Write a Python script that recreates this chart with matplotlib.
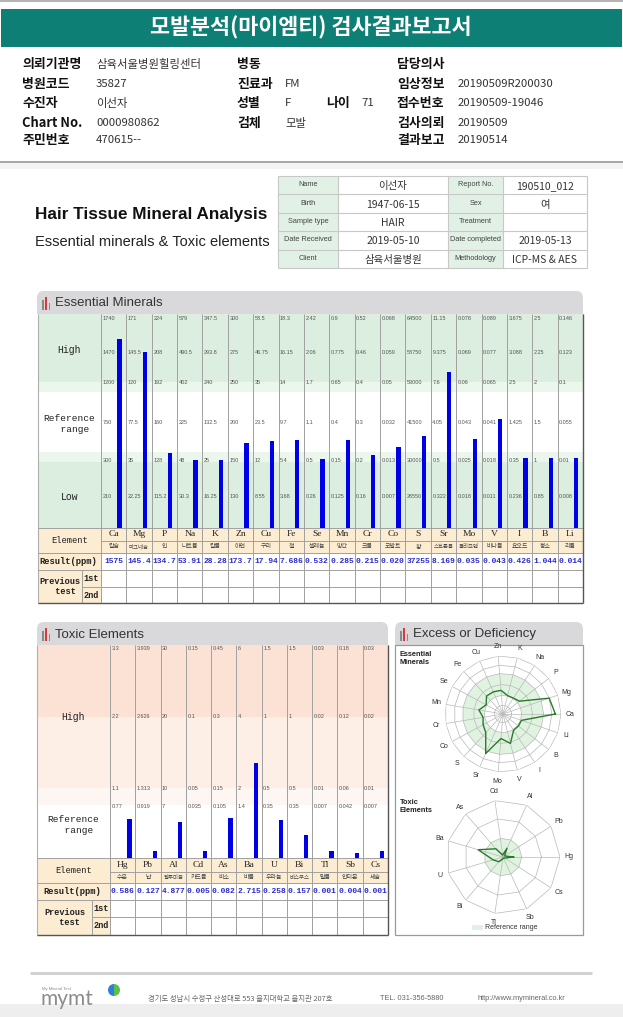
import numpy as np
import matplotlib
matplotlib.use("Agg")
import matplotlib.pyplot as plt
from matplotlib.patches import Rectangle, FancyBboxPatch, Wedge
from matplotlib import font_manager

# ---------------- data ----------------
ESS_SYMBOLS = ["Ca", "Mg", "P", "Na", "K", "Zn", "Cu", "Fe", "Se", "Mn",
               "Cr", "Co", "S", "Sr", "Mo", "V", "I", "B", "Li"]
ESS_KOREAN = ["칼슘", "마그네슘", "인", "나트륨", "칼륨", "아연", "구리", "철", "셀레늄", "망간",
              "크롬", "코발트", "황", "스트론튬", "몰리브덴", "바나듐", "요오드", "붕소", "리튬"]
ESS_RESULTS = ["1575", "145.4", "134.7", "53.91", "28.28", "173.7", "17.94", "7.686", "0.532", "0.285",
               "0.215", "0.020", "37255", "8.169", "0.035", "0.043", "0.426", "1.044", "0.014"]
ESS_TOP = [1740, 171, 224, 579, 347.5, 300, 58.5, 18.3, 2.42, 0.9,
           0.52, 0.068, 64500, 11.15, 0.078, 0.089, 3.675, 2.5, 0.146]
ESS_HIGH_MID = [1470, 145.5, 208, 490.5, 293.8, 275, 46.75, 16.15, 2.06, 0.775,
                0.46, 0.059, 58750, 9.375, 0.069, 0.077, 3.088, 2.25, 0.123]
ESS_HIGH = [1200, 120, 192, 402, 240, 250, 35, 14, 1.7, 0.65,
            0.4, 0.05, 53000, 7.6, 0.06, 0.065, 2.5, 2, 0.1]
ESS_REF_MID = [750, 77.5, 160, 225, 132.5, 200, 23.5, 9.7, 1.1, 0.4,
               0.3, 0.032, 41500, 4.05, 0.043, 0.041, 1.425, 1.5, 0.055]
ESS_LOW = [300, 35, 128, 48, 25, 150, 12, 5.4, 0.5, 0.15,
           0.2, 0.013, 30000, 0.5, 0.025, 0.018, 0.35, 1, 0.01]
ESS_LOW_MID = [210, 22.25, 115.2, 30.3, 16.25, 130, 8.55, 3.68, 0.26, 0.125,
               0.16, 0.007, 26550, 0.322, 0.018, 0.011, 0.236, 0.85, 0.008]

TOX_SYMBOLS = ["Hg", "Pb", "Al", "Cd", "As", "Ba", "U", "Bi", "Tl", "Sb", "Cs"]
TOX_KOREAN = ["수은", "납", "알루미늄", "카드뮴", "비소", "바륨", "우라늄", "비스무스", "탈륨", "안티몬", "세슘"]
TOX_RESULTS = ["0.586", "0.127", "4.877", "0.005", "0.082", "2.715", "0.258", "0.157", "0.001", "0.004", "0.001"]
TOX_TOP = [3.3, 3.939, 30, 0.15, 0.45, 6, 1.5, 1.5, 0.03, 0.18, 0.03]
TOX_HIGH_MID = [2.2, 2.626, 20, 0.1, 0.3, 4, 1, 1, 0.02, 0.12, 0.02]
TOX_HIGH = [1.1, 1.313, 10, 0.05, 0.15, 2, 0.5, 0.5, 0.01, 0.06, 0.01]
TOX_REF = [0.77, 0.919, 7, 0.035, 0.105, 1.4, 0.35, 0.35, 0.007, 0.042, 0.007]

# ---------------- fonts ----------------
W, H = 623, 1017
KR = ['Noto Sans CJK KR', 'DejaVu Sans']
plt.rcParams['font.family'] = KR
_names = {f.name for f in font_manager.fontManager.ttflist}
NARROW = ['Liberation Sans Narrow'] if 'Liberation Sans Narrow' in _names else ['Liberation Sans']
HAS_NARROW = 'Liberation Sans Narrow' in _names
SANS = ['Liberation Sans', 'DejaVu Sans']
MONO = ['Liberation Mono', 'DejaVu Sans Mono']
SERIF = ['Liberation Serif', 'DejaVu Serif']

fig = plt.figure(figsize=(W / 100, H / 100), dpi=100)
fig.patch.set_facecolor('white')
ax0 = fig.add_axes([0, 0, 1, 1])
ax0.set_xlim(0, W)
ax0.set_ylim(H, 0)
ax0.axis('off')


def fig_axes(x0, y0, x1, y1, **kw):
    return fig.add_axes([x0 / W, 1 - y1 / H, (x1 - x0) / W, (y1 - y0) / H], **kw)


def R(x0, y0, x1, y1, fc, ec='none', lw=0, z=1):
    ax0.add_patch(Rectangle((x0, y0), x1 - x0, y1 - y0, facecolor=fc,
                            edgecolor=ec, linewidth=lw, zorder=z))


def L(xs, ys, c='#a8a8a8', lw=0.8, z=3):
    ax0.plot(xs, ys, color=c, lw=lw, zorder=z, solid_capstyle='butt')


def T(x, y, s, size, c='#222222', ha='left', va='center', weight='normal', family=None, z=5):
    ax0.text(x, y, s, fontsize=size, color=c, ha=ha, va=va, fontweight=weight,
             family=family or KR, zorder=z)


def level_heights(values, levels, lv_h):
    out = []
    for i, v in enumerate(values):
        xp = [0.0] + [lv[i] for lv in levels[::-1]]
        fp = [0.0] + list(lv_h[::-1])
        out.append(float(np.interp(v, xp, fp)))
    return np.array(out)


# ---------------- page header ----------------
R(0, 0, W, 2, '#b4b4b4')
R(1, 9, W - 1, 47, '#0e7f74')
T(311, 28, "모발분석(마이엠티) 검사결과보고서", 15.7, 'white', ha='center', weight='bold')

rows_y = [64, 84, 103, 123, 140]
c1_lab = ["의뢰기관명", "병원코드", "수진자", "Chart No.", "주민번호"]
c1_val = ["삼육서울병원힐링센터", "35827", "이선자", "0000980862", "470615--"]
c2_lab = ["병동", "진료과", "성별", "검체"]
c2_val = ["", "FM", "F", "모발"]
c3_lab = ["담당의사", "임상정보", "접수번호", "검사의뢰", "결과보고"]
c3_val = ["", "20190509R200030", "20190509-19046", "20190509", "20190514"]
for i, y in enumerate(rows_y):
    T(22, y, c1_lab[i], 9.3, '#111111', weight='bold')
    T(96, y, c1_val[i], 8.2, '#333333')
    T(397, y, c3_lab[i], 9.3, '#111111', weight='bold')
    T(458, y, c3_val[i], 8.2, '#333333')
for i in range(4):
    T(237, rows_y[i], c2_lab[i], 9.3, '#111111', weight='bold')
    T(285, rows_y[i], c2_val[i], 8.2, '#333333')
T(326, rows_y[2], "나이", 9.3, '#111111', weight='bold')
T(361, rows_y[2], "71", 8.2, '#333333')

R(0, 161, W, 163, '#a8a8a8')
R(0, 163, W, 169, '#f3f3f3')

# ---------------- report title + patient table ----------------
T(35, 214, "Hair Tissue Mineral Analysis", 15 if HAS_NARROW else 12.3, '#111111',
  weight='bold', family=NARROW)
T(35, 242, "Essential minerals & Toxic elements", 11.5 if HAS_NARROW else 10.5, '#222222',
  family=NARROW)

tx = [278, 338, 448, 503, 587]
ty = [176 + 18.4 * i for i in range(6)]
R(tx[0], ty[0], tx[1], ty[-1], '#e2f1e6')
R(tx[2], ty[0], tx[3], ty[-1], '#e2f1e6')
for x in tx:
    L([x, x], [ty[0], ty[-1]], '#c8c8c8', 0.8)
for y in ty:
    L([tx[0], tx[-1]], [y, y], '#c8c8c8', 0.8)
hl1 = ["Name", "Birth", "Sample type", "Date Received", "Client"]
hv1 = ["이선자", "1947-06-15", "HAIR", "2019-05-10", "삼육서울병원"]
hl2 = ["Report No.", "Sex", "Treatment", "Date completed", "Methodology"]
hv2 = ["190510_012", "여", "", "2019-05-13", "ICP-MS & AES"]
for i in range(5):
    yc = (ty[i] + ty[i + 1]) / 2
    T((tx[0] + tx[1]) / 2, yc - 0.5, hl1[i], 5.3, '#444444', ha='center', family=SANS)
    T((tx[1] + tx[2]) / 2, yc + 1, hv1[i], 7.5, '#333333', ha='center')
    T((tx[2] + tx[3]) / 2, yc - 0.5, hl2[i], 5.3, '#444444', ha='center', family=SANS)
    T((tx[3] + tx[4]) / 2, yc + 1, hv2[i], 7.5, '#333333', ha='center')


# ---------------- tab headers ----------------
def tab(x0, x1, y0, y1, title):
    ax0.add_patch(FancyBboxPatch((x0, y0), x1 - x0, y1 - y0,
                                 boxstyle='round,pad=0,rounding_size=7',
                                 facecolor='#d9d9db', edgecolor='none', zorder=1))
    R(x0, y0 + 8, x1, y1, '#d9d9db')
    R(x0 + 5, y1 - 14, x0 + 6.5, y1 - 4, '#8a8a8a', z=2)
    R(x0 + 8, y1 - 17, x0 + 10, y1 - 4, '#d83a3a', z=2)
    R(x0 + 11.5, y1 - 11, x0 + 13, y1 - 4, '#8a8a8a', z=2)
    T(x0 + 18, (y0 + y1) / 2 + 1, title, 9.5, '#333333', family=SANS)


tab(37, 583, 291, 314, "Essential Minerals")
tab(37, 388, 622, 645, "Toxic Elements")
tab(395, 583, 622, 645, "Excess or Deficiency")

# ---------------- essential minerals table ----------------
EX0, EXC, ECW = 38, 101.0, 25.37
EN = len(ESS_SYMBOLS)
EX1 = EXC + EN * ECW
ETOP, EBASE, ESYM, EKR, ERES, EP1, EP2, EPX = 314, 528, 541, 553, 570, 587, 603, 82
E_LV_Y = [319, 352, 382, 422, 461, 497]
E_LV_H = [EBASE - y for y in E_LV_Y]
GREEN, LGREEN, PEACH = '#dceee0', '#ebf6ed', '#fcecd1'

R(EX0, ETOP, EX1, 382, GREEN)
R(EX0, 382, EX1, 392, LGREEN)
R(EX0, 452, EX1, 462, LGREEN)
R(EX0, 462, EX1, EBASE, GREEN)
R(EX0, EBASE, EX1, EKR, PEACH)
R(EX0, EKR, EXC, EP2, PEACH)

for i in range(EN + 1):
    x = EXC + i * ECW
    L([x, x], [ETOP, EP2], '#a0a0a0', 0.7)
L([EX0, EX0], [ETOP, EP2], '#b0b0b0', 0.8)
L([EX1, EX1], [ETOP, EP2], '#555555', 1.0, z=4)
for y, xa in [(EBASE, EX0), (ESYM, EXC), (EKR, EX0), (ERES, EX0), (EP1, EPX)]:
    L([xa, EX1], [y, y], '#a0a0a0', 0.7)
L([EX0, EX1], [EP2, EP2], '#555555', 1.0, z=4)
L([EPX, EPX], [ERES, EP2], '#a0a0a0', 0.7)

lab_x = (EX0 + EXC) / 2
T(lab_x, 350, "High", 7, family=MONO, ha='center')
T(lab_x, 424, "Reference\n  range", 6.8, family=MONO, ha='center')
T(lab_x, 497, "Low", 7, family=MONO, ha='center')
T(lab_x, (EBASE + EKR) / 2, "Element", 6.3, family=MONO, ha='center')
T(lab_x - 1, (EKR + ERES) / 2, "Result(ppm)", 6.3, family=MONO, ha='center', weight='bold')
T((EX0 + EPX) / 2, (ERES + EP2) / 2, "Previous\n  test", 6.2, family=MONO, ha='center', weight='bold')
T((EPX + EXC) / 2, (ERES + EP1) / 2, "1st", 6.2, family=MONO, ha='center', weight='bold')
T((EPX + EXC) / 2, (EP1 + EP2) / 2, "2nd", 6.2, family=MONO, ha='center', weight='bold')

ess_levels = [ESS_TOP, ESS_HIGH_MID, ESS_HIGH, ESS_REF_MID, ESS_LOW, ESS_LOW_MID]
for i in range(EN):
    xl = EXC + i * ECW
    xc = xl + ECW / 2
    for lv, y in zip(ess_levels, E_LV_Y):
        T(xl + 1.5, y, f"{lv[i]:g}", 4.0, '#555555', family=SANS)
    T(xc, (EBASE + ESYM) / 2, ESS_SYMBOLS[i], 6.8, '#222222', ha='center', family=SERIF)
    T(xc, (ESYM + EKR) / 2, ESS_KOREAN[i], 3.9 if len(ESS_KOREAN[i]) > 3 else 4.3, '#444444', ha='center')
    T(xc, (EKR + ERES) / 2, ESS_RESULTS[i], 5.8, '#2a2ad0', ha='center', family=MONO, weight='bold')

ess_vals = np.array([float(s) for s in ESS_RESULTS])
ess_h = level_heights(ess_vals, ess_levels, E_LV_H)
axE = fig_axes(EXC, ETOP, EX1, EBASE)
axE.set_xlim(0, EN)
axE.set_ylim(0, EBASE - ETOP)
axE.axis('off')
axE.bar(np.arange(EN) + 0.73, ess_h, width=0.17, color='#0000e8', zorder=5)

# ---------------- toxic elements table ----------------
TX0, TXC, TCW = 37, 110.0, 25.27
TN = len(TOX_SYMBOLS)
TX1 = TXC + TN * TCW
TTOP, TBASE, TSYM, TKR, TRES, TP1, TP2, TPX = 645, 858, 872, 883, 900, 917, 935, 92
T_LV_Y = [649, 717, 789, 807]
T_LV_H = [TBASE - y for y in T_LV_Y]

R(TX0, TTOP, TX1, 717, '#fbe2d4')
R(TX0, 717, TX1, 788, '#fdeee6')
R(TX0, 788, TX1, 805, '#fef6f2')
R(TX0, TBASE, TX1, TKR, PEACH)
R(TX0, TKR, TXC, TP2, PEACH)

for i in range(TN + 1):
    x = TXC + i * TCW
    L([x, x], [TTOP, TP2], '#a0a0a0', 0.7)
L([TX0, TX0], [TTOP, TP2], '#b0b0b0', 0.8)
L([TX1, TX1], [TTOP, TP2], '#555555', 1.0, z=4)
for y, xa in [(TBASE, TX0), (TSYM, TXC), (TKR, TX0), (TRES, TX0), (TP1, TPX)]:
    L([xa, TX1], [y, y], '#a0a0a0', 0.7)
L([TX0, TX1], [TP2, TP2], '#555555', 1.0, z=4)
L([TPX, TPX], [TRES, TP2], '#a0a0a0', 0.7)

tlab_x = (TX0 + TXC) / 2
T(tlab_x, 717, "High", 7, family=MONO, ha='center')
T(tlab_x, 825, "Reference\n  range", 6.8, family=MONO, ha='center')
T(tlab_x, (TBASE + TKR) / 2, "Element", 6.3, family=MONO, ha='center')
T(tlab_x - 1, (TKR + TRES) / 2, "Result(ppm)", 6.3, family=MONO, ha='center', weight='bold')
T((TX0 + TPX) / 2, (TRES + TP2) / 2, "Previous\n  test", 6.2, family=MONO, ha='center', weight='bold')
T((TPX + TXC) / 2, (TRES + TP1) / 2, "1st", 6.2, family=MONO, ha='center', weight='bold')
T((TPX + TXC) / 2, (TP1 + TP2) / 2, "2nd", 6.2, family=MONO, ha='center', weight='bold')

tox_levels = [TOX_TOP, TOX_HIGH_MID, TOX_HIGH, TOX_REF]
for i in range(TN):
    xl = TXC + i * TCW
    xc = xl + TCW / 2
    for lv, y in zip(tox_levels, T_LV_Y):
        T(xl + 1.5, y, f"{lv[i]:g}", 4.0, '#555555', family=SANS)
    T(xc, (TBASE + TSYM) / 2, TOX_SYMBOLS[i], 6.8, '#222222', ha='center', family=SERIF)
    T(xc, (TSYM + TKR) / 2, TOX_KOREAN[i], 3.9 if len(TOX_KOREAN[i]) > 3 else 4.3, '#444444', ha='center')
    T(xc, (TKR + TRES) / 2, TOX_RESULTS[i], 5.8, '#2a2ad0', ha='center', family=MONO, weight='bold')

tox_vals = np.array([float(s) for s in TOX_RESULTS])
tox_h = level_heights(tox_vals, tox_levels, T_LV_H)
axT = fig_axes(TXC, TTOP, TX1, TBASE)
axT.set_xlim(0, TN)
axT.set_ylim(0, TBASE - TTOP)
axT.axis('off')
axT.bar(np.arange(TN) + 0.77, tox_h, width=0.17, color='#0000e8', zorder=5)

# ---------------- radar panel ----------------
R(395, 645, 583, 935, 'white', ec='#9a9a9a', lw=0.9, z=1)
T(400, 659, "Essential\nMinerals", 5.3, '#222222', weight='bold', family=SANS)
T(400, 806, "Toxic\nElements", 5.3, '#222222', weight='bold', family=SANS)


def radar(cx, cy, rad, labels, r_vals, rings, band):
    ax = fig_axes(cx - rad, cy - rad, cx + rad, cy + rad, projection='polar')
    ax.set_ylim(0, 1)
    ax.axis('off')
    n = len(labels)
    th = np.linspace(0, 2 * np.pi, n + 1)
    r_in, r_out = band
    ax.fill(np.concatenate([th, th[::-1]]),
            np.concatenate([np.full(n + 1, r_out), np.full(n + 1, r_in)]),
            color='#e0f3e0', lw=0, zorder=1)
    for r in rings:
        ax.plot(th, np.full(n + 1, r), color='#b8b8b8', lw=0.5, zorder=2)
    for t in th[:-1]:
        ax.plot([t, t], [0, 1], color='#b8b8b8', lw=0.5, zorder=2)
    rv = np.append(r_vals, r_vals[0])
    ax.plot(th, rv, color='#2a7a2a', lw=1.0, zorder=4)
    for t, lab in zip(th[:-1], labels):
        ax.text(t, 1.16, lab, fontsize=5, color='#333333', ha='center', va='center',
                family=SANS)
    return ax


e_rings = [h / E_LV_H[0] for h in E_LV_H]
radar(503, 714, 58, ESS_SYMBOLS, ess_h / E_LV_H[0], e_rings,
      (E_LV_H[4] / E_LV_H[0], E_LV_H[2] / E_LV_H[0]))
t_rings = [T_LV_H[0] / T_LV_H[0], T_LV_H[1] / T_LV_H[0], T_LV_H[2] / T_LV_H[0]]
radar(503, 857, 57, TOX_SYMBOLS, tox_h / T_LV_H[0], t_rings,
      (0.0, T_LV_H[2] / T_LV_H[0]))
R(472, 925, 483, 930, '#e0f3e0', z=2)
T(485, 927.5, "Reference range", 5, '#333333', family=SANS)

# ---------------- footer ----------------
L([30, 592], [973, 973], '#cfcfcf', 2.0)
T(42, 989, "My Mineral Test", 3, '#888888', family=SANS)
T(40, 999, "mymt", 15, '#8c8c8c', family=['Lato', 'DejaVu Sans'])
ax0.add_patch(Wedge((114, 990), 6, 90, 270, facecolor='#2f7fd6', edgecolor='none', zorder=3))
ax0.add_patch(Wedge((114, 990), 6, 270, 90, facecolor='#5cbf4a', edgecolor='none', zorder=3))
T(148, 999, "경기도 성남시 수정구 산성대로 553 을지대학교 을지관 207호", 5.3, '#666666')
T(380, 999, "TEL. 031-356-5880", 5.3, '#666666', family=SANS)
T(478, 999, "http://www.mymineral.co.kr", 5.3, '#666666', family=SANS)
R(0, 1004, W, H, '#eeeeee')

fig.savefig("out.png", dpi=100, facecolor='white')
